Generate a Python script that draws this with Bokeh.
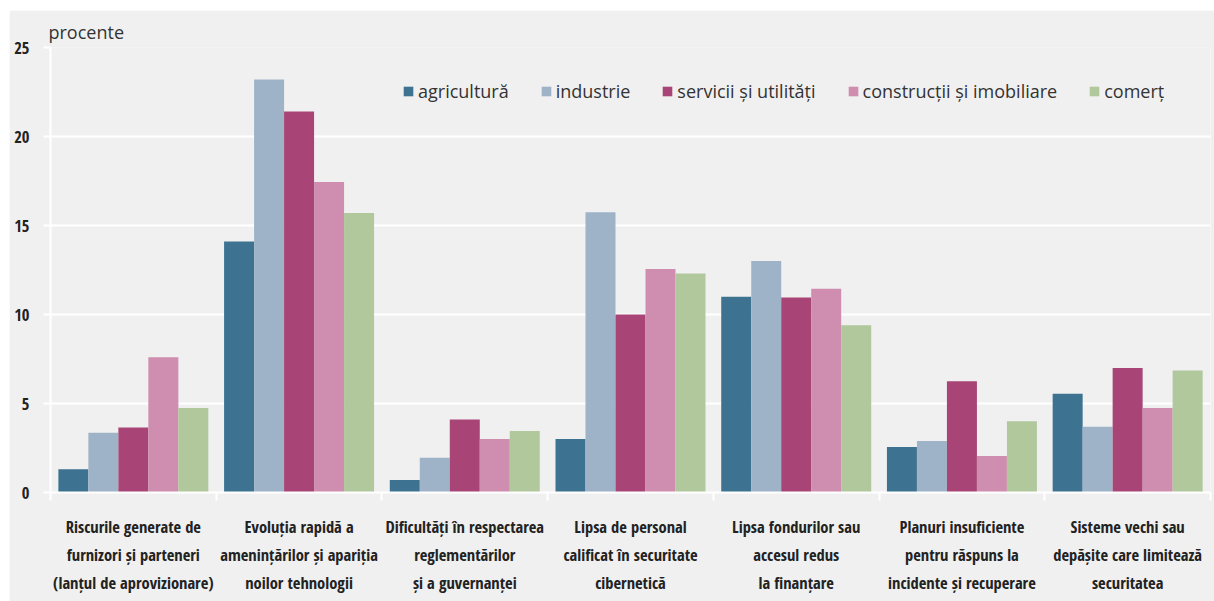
from bokeh.plotting import figure
from bokeh.models import ColumnDataSource, FixedTicker, Legend, LegendItem, Range1d, Spacer
from bokeh.layouts import column, row
from bokeh.transform import dodge
from bokeh.embed import file_html
from bokeh.resources import INLINE

categories = [
    "Riscurile generate de\nfurnizori și parteneri\n(lanțul de aprovizionare)",
    "Evoluția rapidă a\namenințărilor și apariția\nnoilor tehnologii",
    "Dificultăți în respectarea\nreglementărilor\nși a guvernanței",
    "Lipsa de personal\ncalificat în securitate\ncibernetică",
    "Lipsa fondurilor sau\naccesul redus\nla finanțare",
    "Planuri insuficiente\npentru răspuns la\nincidente și recuperare",
    "Sisteme vechi sau\ndepășite care limitează\nsecuritatea",
]
series_names = ["agricultură", "industrie", "servicii și utilități",
                "construcții și imobiliare", "comerț"]
agricultura = [1.3, 14.1, 0.7, 3.0, 11.0, 2.55, 5.55]
industrie = [3.35, 23.2, 1.95, 15.75, 13.0, 2.9, 3.7]
servicii = [3.65, 21.4, 4.1, 10.0, 10.95, 6.25, 7.0]
constructii = [7.6, 17.45, 3.0, 12.55, 11.45, 2.05, 4.75]
comert = [4.75, 15.7, 3.45, 12.3, 9.4, 4.0, 6.85]
y_ticks = [0, 5, 10, 15, 20, 25]

colors = ["#3d7391", "#9fb3c8", "#a84576", "#cf8daf", "#b1c79c"]

BG = "#f0f0f0"
COND = "Open Sans Condensed"
REG = "Open Sans"

n = len(categories)
src = ColumnDataSource(dict(
    x=[i + 0.5 for i in range(n)],
    s0=agricultura, s1=industrie, s2=servicii, s3=constructii, s4=comert,
))

p = figure(width=1205, height=591, output_backend="svg", toolbar_location=None,
           x_range=Range1d(0, n), y_range=Range1d(0, 25),
           min_border_left=41, min_border_right=4, min_border_top=37,
           min_border_bottom=109)
p.background_fill_color = BG
p.border_fill_color = BG
p.outline_line_color = None

bw = 0.181
offsets = [-2 * bw, -bw, 0, bw, 2 * bw]
renderers = []
for k in range(5):
    r = p.vbar(x=dodge("x", offsets[k], range=p.x_range), top="s%d" % k, width=bw,
               bottom=0, source=src, fill_color=colors[k], line_color=None)
    renderers.append(r)

# title used as unit label
p.title.text = "procente"
p.title.align = "left"
p.title.offset = -2
p.title.standoff = 7
p.title.text_font = REG
p.title.text_font_size = "18px"
p.title.text_font_style = "normal"
p.title.text_color = "#333333"

# grid
p.xgrid.grid_line_color = None
p.ygrid.grid_line_color = "white"
p.ygrid.grid_line_width = 2
p.ygrid.ticker = FixedTicker(ticks=y_ticks)

# y axis
p.yaxis.ticker = FixedTicker(ticks=y_ticks)
p.yaxis.axis_line_color = "white"
p.yaxis.axis_line_width = 2
p.yaxis.major_tick_line_color = "white"
p.yaxis.major_tick_line_width = 2
p.yaxis.major_tick_out = 7
p.yaxis.major_tick_in = 0
p.yaxis.minor_tick_line_color = None
p.yaxis.major_label_standoff = 14
p.yaxis.major_label_text_font = COND
p.yaxis.major_label_text_font_size = "16.5px"
p.yaxis.major_label_text_color = "#222222"

# x axis
p.xaxis.ticker = FixedTicker(ticks=[i + 0.5 for i in range(n)],
                             minor_ticks=list(range(n + 1)))
p.xaxis.major_label_overrides = {i + 0.5: categories[i] for i in range(n)}
p.xaxis.axis_line_color = "white"
p.xaxis.axis_line_width = 2
p.xaxis.major_tick_line_color = None
p.xaxis.minor_tick_line_color = "white"
p.xaxis.minor_tick_line_width = 2
p.xaxis.minor_tick_out = 8
p.xaxis.minor_tick_in = 0
p.xaxis.major_label_standoff = 14
p.xaxis.major_label_text_font = COND
p.xaxis.major_label_text_font_size = "16.5px"
p.xaxis.major_label_text_color = "#222222"
p.xaxis.major_label_text_line_height = 1.22
p.xaxis.major_label_text_align = "center"

legend = Legend(items=[LegendItem(label=series_names[k], renderers=[renderers[k]])
                       for k in range(5)],
                orientation="horizontal", location=(352, 389),
                background_fill_alpha=0, border_line_color=None,
                label_text_font=REG, label_text_font_size="18px",
                label_text_color="#333333", glyph_width=12, glyph_height=12,
                label_standoff=4, spacing=31, padding=0, margin=0)
p.add_layout(legend)

layout = column(Spacer(height=10), row(Spacer(width=9), p))
open("out.html", "w").write(file_html(layout, INLINE))
